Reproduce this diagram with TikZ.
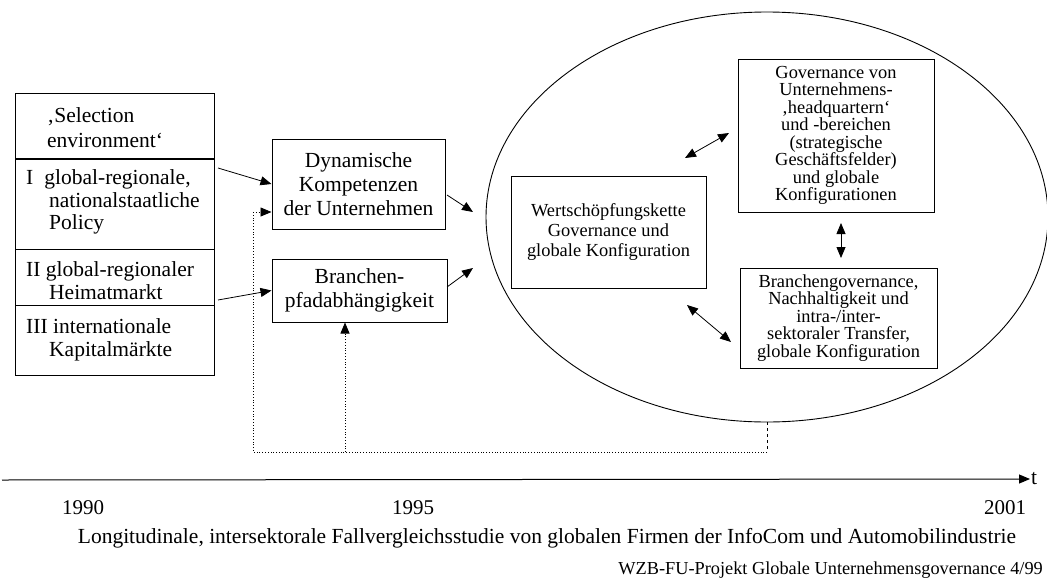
\documentclass[tikz,border=0pt]{standalone}
\usepackage{fontspec}
\setmainfont{Liberation Serif}
\usetikzlibrary{arrows.meta,shapes.geometric}
\setlength{\lineskiplimit}{-20pt}
\begin{document}
\begin{tikzpicture}[x=1pt,y=-1pt,
  box/.style={draw, line width=1pt, inner sep=0pt, align=center},
  cell/.style={draw, line width=1pt, inner sep=0pt, minimum width=199pt, anchor=north west},
  bigtxt/.style={font=\fontsize{21.5}{23.5}\selectfont, inner sep=0pt},
  midtxt/.style={font=\fontsize{21.5}{24}\selectfont},
  smalltxt/.style={font=\fontsize{18.4}{17.5}\selectfont},
  wtxt/.style={font=\fontsize{18.4}{20}\selectfont},
  tip/.style={-{Triangle[length=11pt,width=9pt]}},
  dtip/.style={{Triangle[length=11pt,width=9pt]}-{Triangle[length=11pt,width=9pt]}},
  conn/.style={line width=0.8pt},
  fb/.style={line width=0.8pt, dotted},
]
\useasboundingbox[fill=white] (0,0) rectangle (1047,581);

% left table
\node[cell, minimum height=65pt] (sel) at (15,93) {};
\node[cell, minimum height=91pt] (c1) at (15,158) {};
\node[cell, minimum height=56pt] (c2) at (15,249) {};
\node[cell, minimum height=70pt] (c3) at (15,305) {};
\draw[line width=2pt] (sel.south west) -- (sel.south east);

\node[bigtxt, anchor=base west] (t1) at (47,122) {‚Selection};
\node[bigtxt, anchor=base west] (t2) at (47,147) {environment‘};
\node[bigtxt, anchor=base west] (t3) at (26,184) {I\hspace{11pt}global-regionale,};
\node[bigtxt, anchor=base west] (t4) at (49,207) {nationalstaatliche};
\node[bigtxt, anchor=base west] (t5) at (49,229) {Policy};
\node[bigtxt, anchor=base west] (t6) at (26,276) {II global-regionaler};
\node[bigtxt, anchor=base west] (t7) at (49,299) {Heimatmarkt};
\node[bigtxt, anchor=base west] (t8) at (26,333) {III internationale};
\node[bigtxt, anchor=base west] (t9) at (49,356) {Kapitalmärkte};

% middle boxes
\node[box, midtxt, minimum width=173pt, minimum height=90pt] (dyn) at (358.5,184) {Dynamische\\Kompetenzen\\der Unternehmen};
\node[box, midtxt, minimum width=175pt, minimum height=63pt] (branchen) at (359.5,290.5) {Branchen-\\pfadabhängigkeit};

% ellipse
\node[draw, ellipse, line width=0.9pt, minimum width=562pt, minimum height=410pt, inner sep=0pt] (ell) at (767,217) {};

% inner boxes
\node[box, wtxt, minimum width=195pt, minimum height=112pt] (wert) at (608.5,232) {Wertschöpfungskette\\Governance und\\globale Konfiguration};
\node[box, smalltxt, minimum width=196pt, minimum height=153pt] (gov) at (836,135.5) {Governance von\\Unternehmens-\\‚headquartern‘\\und -bereichen\\(strategische\\Geschäftsfelder)\\und globale\\Konfigurationen};
\node[box, smalltxt, minimum width=197pt, minimum height=100pt] (bgov) at (838.5,318) {Branchengovernance,\\Nachhaltigkeit und\\intra-/inter-\\sektoraler Transfer,\\globale Konfiguration};

% arrow coordinates
\coordinate (s1) at (218,168);
\coordinate (s2) at (218,300);
\coordinate (d1) at (447,195);
\coordinate (e1) at (473,212);
\coordinate (d2) at (447,287);
\coordinate (e2) at (473,268);
\coordinate (wg1) at (685,158);
\coordinate (wg2) at (729,133);
\coordinate (gb1) at (841,223);
\coordinate (gb2) at (841,258);
\coordinate (wb1) at (687,305);
\coordinate (wb2) at (731,342);

\draw[conn, tip] (s1) -- (dyn.west);
\draw[conn, tip] (s2) -- (branchen.west);
\draw[conn, tip] (d1) -- (e1);
\draw[conn, tip] (d2) -- (e2);
\draw[conn, dtip] (wg1) -- (wg2);
\draw[conn, dtip] (gb1) -- (gb2);
\draw[conn, dtip] (wb1) -- (wb2);

% feedback
\coordinate (fbr) at (767,452);
\coordinate (fbl) at (253,452);
\coordinate (fbm) at (345,452);
\coordinate (fbtop) at (253,212);
\draw[line width=0.8pt, dashed] (ell.south) -- (fbr);
\draw[fb] (fbr) -- (fbl) -- (fbtop);
\draw[fb, tip] (fbtop) -- (dyn.west |- fbtop);
\draw[fb, tip] (fbm) -- (fbm |- branchen.south);

% timeline
\coordinate (t0) at (2,480);
\node[font=\fontsize{21.5}{24}\selectfont, inner sep=1pt, anchor=west] (tlab) at (1030,479) {t};
\draw[line width=1pt, tip] (t0) -- (tlab.west);
\node[font=\fontsize{21}{24}\selectfont, anchor=base] (y1) at (83,514) {1990};
\node[font=\fontsize{21}{24}\selectfont, anchor=base] (y2) at (413,514) {1995};
\node[font=\fontsize{21}{24}\selectfont, anchor=base] (y3) at (1005,514) {2001};
\node[font=\fontsize{21.5}{24}\selectfont, anchor=base] (cap) at (547,543) {Longitudinale, intersektorale Fallvergleichsstudie von globalen Firmen der InfoCom und Automobilindustrie};
\node[font=\fontsize{18.3}{20}\selectfont, anchor=base east, inner sep=0pt] (wzb) at (1043,574) {WZB-FU-Projekt Globale Unternehmensgovernance 4/99};
\end{tikzpicture}
\end{document}
